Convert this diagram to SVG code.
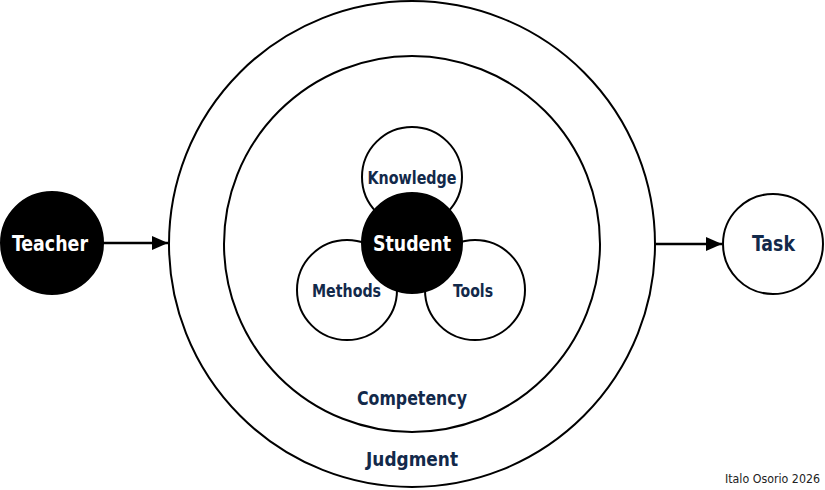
<svg xmlns="http://www.w3.org/2000/svg" width="825" height="490" viewBox="0 0 825 490">
<style>
.ring{fill:none;stroke:#000;stroke-width:2}
.wc{fill:#fff;stroke:#000;stroke-width:2}
.bc{fill:#000;stroke:#000;stroke-width:2}
.lbl{font-family:"Liberation Sans Narrow","DejaVu Sans Condensed","Liberation Sans",sans-serif;font-weight:bold;fill:#12294a;text-anchor:middle}
.wl{fill:#fff}
.credit{font-family:"Liberation Sans Narrow","DejaVu Sans Condensed","Liberation Sans",sans-serif;fill:#222;text-anchor:end}
.conn{stroke:#000;stroke-width:2.5;fill:none}
</style>
<defs>
<marker id="ah" markerWidth="16" markerHeight="14" refX="16" refY="7" orient="auto" markerUnits="userSpaceOnUse">
<path d="M0,0 L16,7 L0,14 Z" fill="#000"/>
</marker>
</defs>
<rect width="825" height="490" fill="#fff"/>
<g id="judgment">
<circle class="ring" cx="412" cy="244" r="243"/>
<text class="lbl" x="412" y="466" font-size="20" textLength="92" lengthAdjust="spacingAndGlyphs">Judgment</text>
</g>
<g id="competency">
<circle class="ring" cx="412" cy="244" r="188"/>
<text class="lbl" x="412" y="405" font-size="20" textLength="110" lengthAdjust="spacingAndGlyphs">Competency</text>
</g>
<g id="knowledge">
<circle class="wc" cx="412" cy="177" r="50"/>
<text class="lbl" x="412" y="184" font-size="17" textLength="89" lengthAdjust="spacingAndGlyphs">Knowledge</text>
</g>
<g id="methods">
<circle class="wc" cx="347" cy="290" r="50"/>
<text class="lbl" x="346.5" y="297" font-size="17" textLength="69" lengthAdjust="spacingAndGlyphs">Methods</text>
</g>
<g id="tools">
<circle class="wc" cx="475" cy="290" r="50"/>
<text class="lbl" x="473" y="297" font-size="17" textLength="40" lengthAdjust="spacingAndGlyphs">Tools</text>
</g>
<g id="student">
<circle class="bc" cx="412" cy="243" r="50"/>
<text class="lbl wl" x="412" y="251" font-size="22" textLength="78" lengthAdjust="spacingAndGlyphs">Student</text>
</g>
<g id="teacher">
<circle class="bc" cx="52" cy="243" r="51"/>
<text class="lbl wl" x="50" y="251" font-size="22" textLength="76" lengthAdjust="spacingAndGlyphs">Teacher</text>
</g>
<g id="task">
<circle class="wc" cx="773" cy="244" r="50"/>
<text class="lbl" x="773.5" y="251" font-size="21" textLength="43" lengthAdjust="spacingAndGlyphs">Task</text>
</g>
<g id="connectors">
<line class="conn" x1="103" y1="243" x2="168" y2="243" marker-end="url(#ah)"/>
<line class="conn" x1="656" y1="244" x2="722" y2="244" marker-end="url(#ah)"/>
</g>
<text class="credit" x="820" y="483" font-size="13" textLength="95" lengthAdjust="spacingAndGlyphs">Italo Osorio 2026</text>
</svg>
